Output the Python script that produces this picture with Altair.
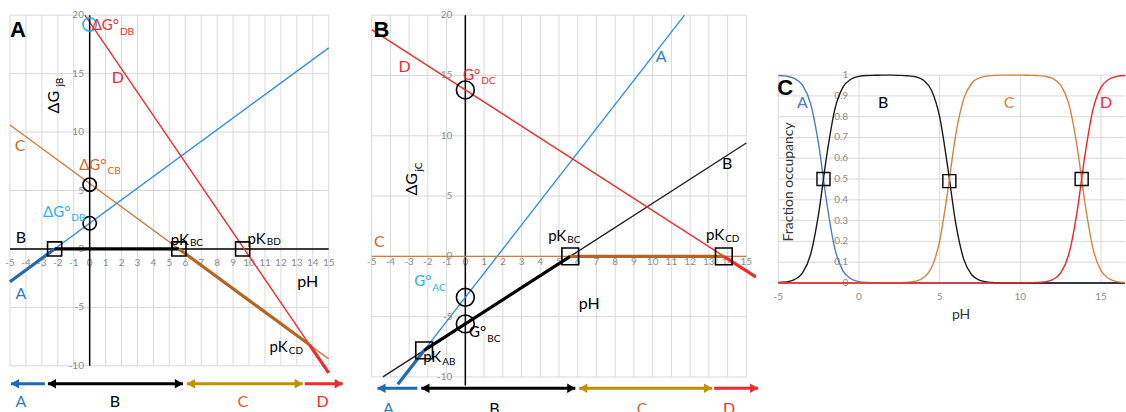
import altair as alt
import pandas as pd

FONT = "Lato"
BOLD_FONT = "Liberation Sans"

BLUE = "#3592D6"
BLUE_DARK = "#2169B3"
BLUE_TEXT = "#2E7DC4"
CYAN = "#1DB2E8"
BROWN = "#CF7C3E"
BROWN_DARK = "#B5651D"
BROWN_TEXT = "#C8692D"
RED = "#EF2B2F"
GOLD = "#BF9000"
GRID = "#D9D9D9"
TICK = "#8C8C8C"

# ---------------- shared tick values ----------------
PH_TICKS = list(range(-5, 16))
DG_TICKS = [-10, -5, 0, 5, 10, 15, 20]

# ---------------- panel A: ΔG of each state relative to B ----------------
A_STATE = ["A", "B", "C", "D"]
A_LINE_COLOR = [BLUE, "black", BROWN, RED]
A_PH0 = [-5, -5, -5, -0.3]
A_PH1 = [15, 15, 15, 15]
A_DG0 = [-2.8, 0, 10.6, 20]
A_DG1 = [17.2, 0, -9.4, -10.6]
# lowest-free-energy envelope (break points at the pK values)
A_ENV_PH = [-5, -2.2, 5.6, 13.8, 15]
A_ENV_DG = [-2.8, 0, 0, -8.2, -10.6]
A_ENV_COLOR = [BLUE_DARK, "black", BROWN_DARK, RED]
A_PK_PH = [-2.2, 5.6, 9.6]
A_PK_DG = [0, 0, 0]
A_G0_DG = [19.2, 5.5, 2.2]
A_G0_COLOR = [CYAN, "black", "black"]

# ---------------- panel B: ΔG of each state relative to C ----------------
B_LINE_COLOR = [BLUE, "#222222", BROWN, RED]
B_PH0 = [-3.6, -4.4, -5, -5]
B_PH1 = [11.7, 15, 15, 15.5]
B_DG0 = [-10.6, -10, 0, 18.8]
B_DG1 = [20, 9.4, 0, -1.7]
B_ENV_PH = [-3.6, -2.2, 5.6, 13.8, 15.5]
B_ENV_DG = [-10.6, -7.8, 0, 0, -1.7]
B_ENV_COLOR = [BLUE_DARK, "black", BROWN_DARK, RED]
B_PK_PH = [-2.2, 5.6, 13.8]
B_PK_DG = [-7.8, 0, 0]
B_G0_DG = [13.8, -3.4, -5.6]

# ---------------- panel C: fraction occupancy of each state ----------------
C_PH = [-5.0, -4.5, -4.0, -3.5, -3.0, -2.5, -2.0, -1.5, -1.0, -0.5,
        0.0, 0.5, 1.0, 1.5, 2.0, 2.5, 3.0, 3.5, 4.0, 4.5,
        5.0, 5.5, 6.0, 6.5, 7.0, 7.5, 8.0, 8.5, 9.0, 9.5,
        10.0, 10.5, 11.0, 11.5, 12.0, 12.5, 13.0, 13.5, 14.0, 14.5,
        15.0, 15.5, 16.0, 16.5]
FRAC_A = [0.998, 0.995, 0.984, 0.952, 0.863, 0.666, 0.387, 0.166, 0.059, 0.020,
          0.006, 0.002, 0.0, 0.0, 0.0, 0.0, 0.0, 0.0, 0.0, 0.0,
          0.0, 0.0, 0.0, 0.0, 0.0, 0.0, 0.0, 0.0, 0.0, 0.0,
          0.0, 0.0, 0.0, 0.0, 0.0, 0.0, 0.0, 0.0, 0.0, 0.0,
          0.0, 0.0, 0.0, 0.0]
FRAC_B = [0.002, 0.005, 0.016, 0.048, 0.137, 0.334, 0.613, 0.834, 0.941, 0.980,
          0.994, 0.998, 0.999, 1.0, 1.0, 0.999, 0.997, 0.992, 0.975, 0.926,
          0.799, 0.557, 0.285, 0.112, 0.038, 0.012, 0.004, 0.001, 0.0, 0.0,
          0.0, 0.0, 0.0, 0.0, 0.0, 0.0, 0.0, 0.0, 0.0, 0.0,
          0.0, 0.0, 0.0, 0.0]
FRAC_C = [0.0, 0.0, 0.0, 0.0, 0.0, 0.0, 0.0, 0.0, 0.0, 0.0,
          0.0, 0.0, 0.001, 0.0, 0.0, 0.001, 0.003, 0.008, 0.025, 0.074,
          0.201, 0.443, 0.715, 0.888, 0.962, 0.988, 0.996, 0.999, 1.0, 1.0,
          1.0, 0.999, 0.998, 0.995, 0.984, 0.952, 0.863, 0.666, 0.387, 0.166,
          0.059, 0.020, 0.006, 0.002]
FRAC_D = [0.0, 0.0, 0.0, 0.0, 0.0, 0.0, 0.0, 0.0, 0.0, 0.0,
          0.0, 0.0, 0.0, 0.0, 0.0, 0.0, 0.0, 0.0, 0.0, 0.0,
          0.0, 0.0, 0.0, 0.0, 0.0, 0.0, 0.0, 0.0, 0.0, 0.0,
          0.0, 0.001, 0.002, 0.005, 0.016, 0.048, 0.137, 0.334, 0.613, 0.834,
          0.941, 0.980, 0.994, 0.998]
C_CURVE_COLOR = ["#4C7CCB", "#1A1A1A", "#D4843E", "#F0242A"]
C_PK_PH = [-2.2, 5.6, 13.8]
C_PK_FRAC = [0.5, 0.49, 0.5]
C_PH_TICKS = [-5, 0, 5, 10, 15]
C_FRAC_TICKS = [0, 0.1, 0.2, 0.3, 0.4, 0.5, 0.6, 0.7, 0.8, 0.9, 1]


# ---------------- helpers ----------------
def scale_from_pixels(px_anchor, value_anchor, px_per_unit, length, invert=False):
    """Linear domain for a panel whose pixel `px_anchor` shows `value_anchor`."""
    if invert:
        hi = value_anchor + px_anchor / px_per_unit
        lo = hi - length / px_per_unit
    else:
        lo = value_anchor - px_anchor / px_per_unit
        hi = lo + length / px_per_unit
    return alt.Scale(domain=[lo, hi], nice=False, zero=False)


def xy(xs, ys):
    return {"x": alt.X("x:Q", scale=xs, axis=None),
            "y": alt.Y("y:Q", scale=ys, axis=None)}


def segments(df, xs, ys, width, clip=False):
    return alt.Chart(df).mark_rule(strokeWidth=width, clip=clip).encode(
        **xy(xs, ys), x2="x2:Q", y2="y2:Q",
        color=alt.Color("c:N", scale=None))


def texts(rows, xs, ys, align="center", angle=0, weight="normal", font=FONT, clip=False, dx=0):
    df = pd.DataFrame(rows, columns=["x", "y", "t", "c", "s"])
    return alt.Chart(df).mark_text(
        align=align, baseline="middle", angle=angle, fontWeight=weight, font=font,
        clip=clip, dx=dx
    ).encode(**xy(xs, ys), text="t:N",
             color=alt.Color("c:N", scale=None), size=alt.Size("s:Q", scale=None))


def subscripted(rows, xs, ys, size=15, sub_size=10):
    """rows: (main, sub, x where the subscript starts, y of main, y of sub, colour)."""
    mains = [(x, y, m, c, size) for m, s, x, y, ysub, c in rows]
    subs = [(x, ysub, s, c, sub_size) for m, s, x, y, ysub, c in rows]
    return [texts(mains, xs, ys, align="right", dx=-1),
            texts(subs, xs, ys, align="left")]


def markers(xv, yv, colors, shape, size, xs, ys, width=1.6):
    df = pd.DataFrame({"x": xv, "y": yv, "c": colors})
    return alt.Chart(df).mark_point(shape=shape, filled=False, size=size,
                                    strokeWidth=width, opacity=1).encode(
        **xy(xs, ys), color=alt.Color("c:N", scale=None))


def arrows(rows, xs, ys):
    df = pd.DataFrame(rows, columns=["x", "x2", "y", "c", "hl", "hr"])
    shaft = alt.Chart(df).mark_rule(strokeWidth=3).encode(
        **xy(xs, ys), x2="x2:Q", color=alt.Color("c:N", scale=None))
    left = df[df.hl]
    right = df[df.hr].assign(x=lambda d: d.x2)
    lh = alt.Chart(left).mark_point(shape="triangle-left", filled=True, size=90, opacity=1).encode(
        **xy(xs, ys), color=alt.Color("c:N", scale=None), xOffset=alt.value(4))
    rh = alt.Chart(right).mark_point(shape="triangle-right", filled=True, size=90, opacity=1).encode(
        **xy(xs, ys), color=alt.Color("c:N", scale=None), xOffset=alt.value(-4))
    return [shaft, lh, rh]


def grid_layers(xs, ys, vx, hy, x_lo, x_hi, y_lo, y_hi):
    v = pd.DataFrame({"x": vx, "x2": vx, "y": [y_lo] * len(vx), "y2": [y_hi] * len(vx), "c": GRID})
    h = pd.DataFrame({"x": [x_lo] * len(hy), "x2": [x_hi] * len(hy), "y": hy, "y2": hy, "c": GRID})
    return [segments(v, xs, ys, 1), segments(h, xs, ys, 1)]


def line_table(ph0, ph1, dg0, dg1, colors):
    return pd.DataFrame({"x": ph0, "x2": ph1, "y": dg0, "y2": dg1, "c": colors})


def envelope_table(ph, dg, colors):
    return pd.DataFrame({"x": ph[:-1], "x2": ph[1:], "y": dg[:-1], "y2": dg[1:], "c": colors})


# ---------------- panel A ----------------
WA, H = 360, 412
xa = scale_from_pixels(10, -5, 15.95, WA)
ya = scale_from_pixels(15, 20, 11.7, H, invert=True)

panel_a_layers = grid_layers(xa, ya, PH_TICKS, DG_TICKS, -5, 15, -10, 20)
panel_a_layers += [
    texts([(p, -1.2, str(p), TICK, 10) for p in PH_TICKS], xa, ya),
    texts([(-0.36, d, str(d), TICK, 10) for d in DG_TICKS], xa, ya, align="right"),
    segments(line_table(A_PH0, A_PH1, A_DG0, A_DG1, A_LINE_COLOR), xa, ya, 1.4),
    segments(line_table([0], [0], [-10], [20], ["black"]), xa, ya, 1.5),
    segments(envelope_table(A_ENV_PH, A_ENV_DG, A_ENV_COLOR), xa, ya, 3.2),
    markers(A_PK_PH, A_PK_DG, ["black"] * 3, "square", 200, xa, ya),
    markers([0, 0, 0], A_G0_DG, A_G0_COLOR, "circle", 180, xa, ya),
    texts([(-4.5, 18.7, "A", "black", 22)], xa, ya, weight="bold", font=BOLD_FONT),
    texts([(1.77, 14.6, "D", RED, 16), (-4.37, 8.8, "C", BROWN_TEXT, 16),
           (-4.31, 0.94, "B", "black", 16), (-4.31, -3.85, "A", BLUE_TEXT, 16),
           (13.68, -2.82, "pH", "black", 16),
           (-4.31, -13.08, "A", BLUE_TEXT, 16), (1.58, -13.08, "B", "black", 16),
           (9.61, -13.08, "C", BROWN_TEXT, 16), (14.62, -13.08, "D", RED, 16)], xa, ya),
    texts([(-2.24, 12.56, "ΔG", "black", 16)], xa, ya, angle=270),
    texts([(-1.87, 14.27, "jB", "black", 10)], xa, ya, angle=270),
]
panel_a_layers += subscripted([("ΔG°", "DB", 1.9, 19.15, 18.6, RED),
                               ("ΔG°", "CB", 1.12, 7.2, 6.67, BROWN_TEXT),
                               ("ΔG°", "DB", -1.15, 3.16, 2.65, CYAN),
                               ("pK", "BC", 6.29, 0.77, 0.5, "black"),
                               ("pK", "BD", 11.11, 0.85, 0.6, "black"),
                               ("pK", "CD", 12.49, -8.38, -8.72, "black")], xa, ya)
panel_a_layers += arrows([(-4.94, -2.81, -11.54, BLUE_DARK, True, False),
                          (-2.62, 5.85, -11.54, "black", True, True),
                          (6.1, 13.37, -11.54, GOLD, True, True),
                          (13.5, 15.88, -11.54, RED, False, True)], xa, ya)
panel_a = alt.layer(*panel_a_layers).properties(width=WA, height=H)

# ---------------- panel B ----------------
WB = 405
xb = scale_from_pixels(12, -5, 18.75, WB)
yb = scale_from_pixels(15, 20, 12.07, H, invert=True)

panel_b_layers = grid_layers(xb, yb, PH_TICKS, DG_TICKS, -5, 15, -10, 20)
panel_b_layers += [
    texts([(p, -0.45, str(p), TICK, 10) for p in PH_TICKS], xb, yb),
    texts([(-0.69, d, str(d), TICK, 10) for d in DG_TICKS], xb, yb, align="right"),
    segments(line_table([0], [0], [-10.7], [20], ["black"]), xb, yb, 1.5),
    segments(line_table(B_PH0, B_PH1, B_DG0, B_DG1, B_LINE_COLOR), xb, yb, 1.4),
    segments(envelope_table(B_ENV_PH, B_ENV_DG, B_ENV_COLOR), xb, yb, 3.2),
    markers(B_PK_PH, B_PK_DG, ["black"] * 3, "square", 280, xb, yb),
    markers([0, 0, 0], B_G0_DG, ["black"] * 3, "circle", 320, xb, yb),
    texts([(-4.48, 18.8, "B", "black", 22)], xb, yb, weight="bold", font=BOLD_FONT),
    texts([(-3.25, 15.74, "D", RED, 16), (10.45, 16.57, "A", BLUE_TEXT, 16),
           (13.97, 7.62, "B", "black", 16), (-4.59, 1.16, "C", BROWN_TEXT, 16),
           (6.61, -3.98, "pH", "black", 16)], xb, yb),
    texts([(-4.11, -12.68, "A", BLUE_TEXT, 16), (1.55, -12.68, "B", "black", 16),
           (9.44, -12.68, "C", BROWN_TEXT, 16), (14.08, -12.68, "D", RED, 16)], xb, yb, clip=True),
    texts([(-2.83, 5.97, "ΔG", "black", 16)], xb, yb, angle=270),
    texts([(-2.5, 7.4, "jC", "black", 10)], xb, yb, angle=270),
]
panel_b_layers += subscripted([("G°", "DC", 0.85, 15.0, 14.5, RED),
                               ("pK", "BC", 5.44, 1.66, 1.33, "black"),
                               ("pK", "CD", 13.87, 1.74, 1.41, "black"),
                               ("G°", "AC", -1.76, -2.07, -2.65, CYAN),
                               ("G°", "BC", 1.17, -6.3, -6.88, "black"),
                               ("pK", "AB", -1.23, -8.37, -8.78, "black")], xb, yb)
panel_b_layers += arrows([(-4.69, -2.56, -10.94, BLUE_DARK, True, False),
                          (-2.35, 5.87, -10.94, "black", True, True),
                          (6.08, 13.17, -10.94, GOLD, True, True),
                          (13.28, 15.63, -10.94, RED, False, True)], xb, yb)
panel_b = alt.layer(*panel_b_layers).properties(width=WB, height=H)

# ---------------- panel C ----------------
WC = 361
xc = scale_from_pixels(14, -5, 16.15, WC)
yc = scale_from_pixels(75, 1, 208, H, invert=True)

curves = pd.concat([
    pd.DataFrame({"x": C_PH, "y": vals, "state": s})
    for s, vals in zip(A_STATE, [FRAC_A, FRAC_B, FRAC_C, FRAC_D])
])
curve_layer = alt.Chart(curves).mark_line(strokeWidth=1.4, interpolate="monotone", clip=True).encode(
    **xy(xc, yc), detail="state:N",
    color=alt.Color("state:N", scale=alt.Scale(domain=A_STATE, range=C_CURVE_COLOR), legend=None),
    order=alt.Order("x:Q"))

panel_c_layers = grid_layers(xc, yc, C_PH_TICKS, C_FRAC_TICKS, -5, 16.49, 0, 1)
panel_c_layers += [
    texts([(p, -0.067, str(p), TICK, 10) for p in C_PH_TICKS], xc, yc),
    texts([(-0.67, f, f"{f:g}", TICK, 10) for f in C_FRAC_TICKS], xc, yc, align="right"),
    curve_layer,
    markers(C_PK_PH, C_PK_FRAC, ["black"] * 3, "square", 170, xc, yc, width=1.4),
    texts([(-4.57, 0.94, "C", "black", 22)], xc, yc, weight="bold", font=BOLD_FONT),
    texts([(-3.51, 0.865, "A", "#4C7CCB", 16), (1.5, 0.865, "B", "black", 16),
           (9.3, 0.865, "C", "#D4843E", 16), (15.31, 0.865, "D", RED, 16),
           (6.33, -0.154, "pH", "#333333", 14)], xc, yc),
    texts([(-4.32, 0.486, "Fraction occupancy", "#333333", 14)], xc, yc, angle=270),
]
panel_c = alt.layer(*panel_c_layers).properties(width=WC, height=H)

chart = alt.hconcat(panel_a, panel_b, panel_c, spacing=0).properties(
    padding=0, background="white"
).configure_view(stroke=None)

chart.save("out.html", embed_options={"renderer": "svg", "actions": False})
